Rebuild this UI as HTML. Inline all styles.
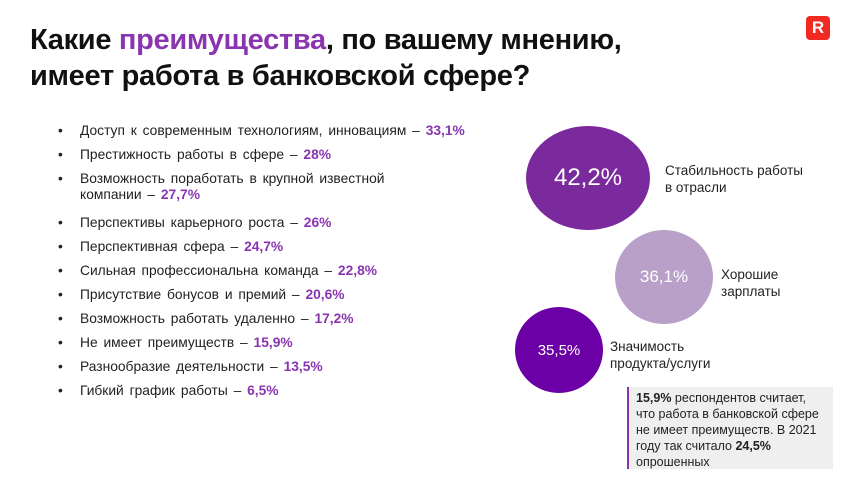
<!DOCTYPE html>
<html><head><meta charset="utf-8"><style>
body{margin:0;width:860px;height:484px;background:#fff;position:relative;overflow:hidden;font-family:"Liberation Sans",sans-serif;color:#1a1a1a}
.t{position:absolute;left:30px;font-weight:bold;font-size:29px;letter-spacing:-0.3px;line-height:36px;color:#111;white-space:nowrap}
.li{position:absolute;left:80px;font-size:13.8px;line-height:16px;white-space:nowrap;word-spacing:2px;color:#222}
.li:before{content:"•";position:absolute;left:-22px}
.li b{color:#8a35b0}
.c{position:absolute;border-radius:50%;color:#fff;display:flex;align-items:center;justify-content:center}
.lab{position:absolute;font-size:13.5px;line-height:17px;color:#222}
</style></head><body>
<div class="t" style="top:22px">Какие <span style="color:#8a35b0">преимущества</span>, по вашему мнению,</div>
<div class="t" style="top:58px">имеет работа в банковской сфере?</div>
<div style="position:absolute;left:806px;top:16px;width:24px;height:24px;background:#f02a20;border-radius:4px;color:#fff;font-weight:bold;font-size:17px;text-align:center;line-height:24px">R</div>

<div class="li" style="top:123px">Доступ к современным технологиям, инновациям – <b>33,1%</b></div>
<div class="li" style="top:147px">Престижность работы в сфере – <b>28%</b></div>
<div class="li" style="top:171px">Возможность поработать в крупной известной<br>компании – <b>27,7%</b></div>
<div class="li" style="top:215px">Перспективы карьерного роста – <b>26%</b></div>
<div class="li" style="top:239px">Перспективная сфера – <b>24,7%</b></div>
<div class="li" style="top:263px">Сильная профессиональна команда – <b>22,8%</b></div>
<div class="li" style="top:287px">Присутствие бонусов и премий – <b>20,6%</b></div>
<div class="li" style="top:311px">Возможность работать удаленно – <b>17,2%</b></div>
<div class="li" style="top:335px">Не имеет преимуществ – <b>15,9%</b></div>
<div class="li" style="top:359px">Разнообразие деятельности – <b>13,5%</b></div>
<div class="li" style="top:383px">Гибкий график работы – <b>6,5%</b></div>

<div class="c" style="left:526px;top:126px;width:124px;height:104px;background:#7b2a9e;font-size:24px">42,2%</div>
<div class="lab" style="left:665px;top:162px">Стабильность работы<br>в отрасли</div>
<div class="c" style="left:615px;top:230px;width:98px;height:94px;background:#b9a0c9;font-size:17px">36,1%</div>
<div class="lab" style="left:721px;top:266px">Хорошие<br>зарплаты</div>
<div class="c" style="left:515px;top:307px;width:88px;height:86px;background:#6a00a5;font-size:15px">35,5%</div>
<div class="lab" style="left:610px;top:338px">Значимость<br>продукта/услуги</div>

<div style="position:absolute;left:627px;top:387px;width:206px;height:82px;background:#efefef;border-left:2px solid #8a35b0;padding:3px 0 0 7px;box-sizing:border-box;font-size:12.5px;line-height:16px;color:#222;white-space:nowrap"><b>15,9%</b> респондентов считает,<br>что работа в банковской сфере<br>не имеет преимуществ. В 2021<br>году так считало <b>24,5%</b><br>опрошенных</div>
</body></html>
